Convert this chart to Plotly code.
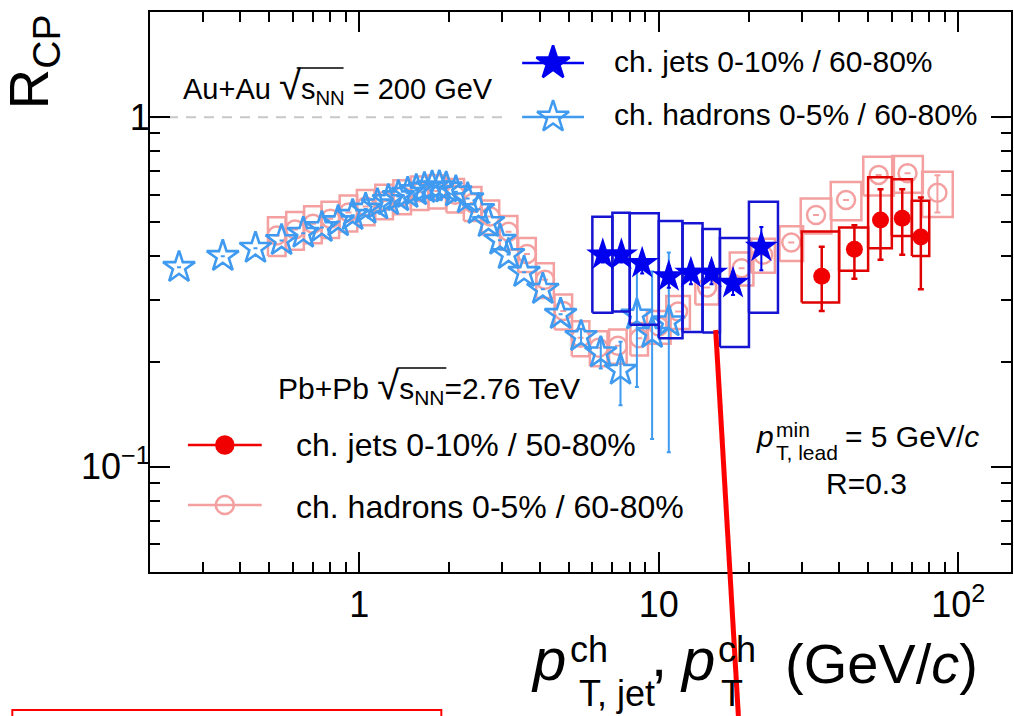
import math
import plotly.graph_objects as go

# ---------------- data ----------------
# STAR charged hadrons 0-5% / 60-80% (Au+Au 200 GeV) : light blue open stars
star_pt = [0.25, 0.35, 0.45, 0.55, 0.65, 0.75, 0.85, 0.95, 1.05, 1.15, 1.25, 1.35,
           1.45, 1.55, 1.65, 1.75, 1.85, 1.95, 2.1, 2.3, 2.5, 2.7, 2.95, 3.15, 3.55,
           4.1, 4.7, 5.5, 6.4, 7.45, 8.45, 9.5, 10.8]
star_rcp = [0.372, 0.400, 0.422, 0.444, 0.466, 0.484, 0.503, 0.524, 0.546, 0.562,
            0.578, 0.593, 0.606, 0.617, 0.626, 0.632, 0.633, 0.628, 0.612, 0.585,
            0.545, 0.500, 0.445, 0.405, 0.360, 0.322, 0.273, 0.236, 0.212, 0.189,
            0.272, 0.241, 0.260]
star_err = [0.0] * 27 + [0.012, 0.021, 0.039, 0.103, 0.121, 0.150]

# STAR charged jets 0-10% / 60-80% : dark blue filled stars with sys boxes
sjet_pt = [6.5, 7.5, 8.8, 10.8, 12.8, 15.0, 17.7, 22.0]
sjet_lo = [6, 7, 8, 10, 12, 14, 16, 20]
sjet_hi = [7, 8, 10, 12, 14, 16, 20, 25]
sjet_rcp = [0.404, 0.404, 0.382, 0.350, 0.358, 0.358, 0.335, 0.425]
sjet_stat = [0.02, 0.02, 0.025, 0.025, 0.025, 0.025, 0.025, 0.06]
sjet_sys_up = [0.115, 0.129, 0.149, 0.155, 0.139, 0.121, 0.116, 0.148]
sjet_sys_dn = [0.128, 0.126, 0.127, 0.117, 0.115, 0.116, 0.115, 0.149]

# ALICE charged jets 0-10% / 50-80% (Pb+Pb 2.76 TeV) : red filled circles
ajet_pt = [35, 45, 55, 65, 75]
ajet_lo = [30, 40, 50, 60, 70]
ajet_hi = [40, 50, 60, 70, 80]
ajet_rcp = [0.351, 0.419, 0.508, 0.514, 0.454]
ajet_stat_up = [0.075, 0.072, 0.114, 0.108, 0.135]
ajet_stat_dn = [0.072, 0.074, 0.117, 0.110, 0.132]
ajet_sys_up = [0.120, 0.065, 0.165, 0.151, 0.123]
ajet_sys_dn = [0.056, 0.055, 0.086, 0.057, 0.053]

# ALICE charged hadrons 0-5% / 60-80% : pink open circles
ahad_pt = [0.53, 0.61, 0.70, 0.80, 0.92, 1.05, 1.21, 1.39, 1.59, 1.82, 2.09, 2.39,
           2.74, 3.15, 3.63, 4.17, 4.8, 5.48, 6.3, 7.3, 8.6, 10.0, 11.6, 14.5, 18.9,
           22.3, 27.7, 33.5, 42.2, 54.2, 67.7, 85.2]
ahad_rcp = [0.459, 0.477, 0.496, 0.512, 0.534, 0.555, 0.576, 0.594, 0.610, 0.615,
            0.600, 0.568, 0.520, 0.470, 0.406, 0.343, 0.279, 0.234, 0.219, 0.222,
            0.233, 0.252, 0.278, 0.326, 0.370, 0.404, 0.438, 0.525, 0.580, 0.684,
            0.691, 0.608]
ahad_sys = [0.058, 0.059, 0.060, 0.061, 0.063, 0.064, 0.065, 0.066, 0.067, 0.067,
            0.066, 0.063, 0.058, 0.052, 0.045, 0.039, 0.032, 0.027, 0.025, 0.025,
            0.025, 0.027, 0.030, 0.035, 0.040, 0.045, 0.050, 0.060, 0.073, 0.087,
            0.083, 0.090]
ahad_stat = [0.0] * 31 + [0.074]

x_tick_vals = [1, 10, 100]
x_tick_text = ["1", "10", "10<sup>2</sup>"]
y_tick_vals = [0.1, 1]
y_tick_text = ["10<sup>\u22121</sup>", "1"]
x_minor = [0.3, 0.4, 0.5, 0.6, 0.7, 0.8, 0.9, 2, 3, 4, 5, 6, 7, 8, 9,
           20, 30, 40, 50, 60, 70, 80, 90]
y_minor = [0.06, 0.07, 0.08, 0.09, 0.2, 0.3, 0.4, 0.5, 0.6, 0.7, 0.8, 0.9, 2]

# ---------------- style ----------------
FONT = "Liberation Sans, Arial, Helvetica, sans-serif"
LBLUE = "#3f9af0"
DBLUE = "#0000ee"
BOXBLUE = "#1414d2"
RED = "#f00000"
BOXRED = "#e00000"
PINK = "#f4a0a0"

W, H = 1014, 716
ML, MR, MT, MB = 150, 1, 12, 144
PW, PH = W - ML - MR, H - MT - MB


def px(x):
    return (x - ML) / PW


def py(y):
    return (H - MB - y) / PH


def box_path(lo, hi, bot, top):
    xs, ys = [], []
    for a, b, c, d in zip(lo, hi, bot, top):
        xs += [a, b, b, a, a, None]
        ys += [c, c, d, d, c, None]
    return xs, ys


def had_box_factor(pt):
    if pt < 9.5:
        return 1.07
    if pt < 30:
        return 1.095
    return 1.125


fig = go.Figure()

# pink boxes (ALICE hadrons sys)
f = [had_box_factor(p) for p in ahad_pt]
bx, by = box_path([p / k for p, k in zip(ahad_pt, f)], [p * k for p, k in zip(ahad_pt, f)],
                  [r - s for r, s in zip(ahad_rcp, ahad_sys)],
                  [r + s for r, s in zip(ahad_rcp, ahad_sys)])
fig.add_trace(go.Scatter(x=bx, y=by, mode="lines", line=dict(color=PINK, width=2.5),
                         hoverinfo="skip", showlegend=False))
fig.add_trace(go.Scatter(x=ahad_pt, y=ahad_rcp, mode="markers",
                         marker=dict(symbol="circle-open", size=18, color=PINK,
                                     line=dict(width=2.5, color=PINK)),
                         error_y=dict(type="data", array=ahad_stat, color=PINK,
                                      thickness=2, width=3),
                         showlegend=False))

# STAR hadrons
fig.add_trace(go.Scatter(x=star_pt, y=star_rcp, mode="markers",
                         marker=dict(symbol="star-open", size=24, color=LBLUE,
                                     line=dict(width=2.6, color=LBLUE)),
                         error_y=dict(type="data", array=star_err, color=LBLUE,
                                      thickness=2, width=2),
                         showlegend=False))

# ALICE jets
bx, by = box_path(ajet_lo, ajet_hi, [r - s for r, s in zip(ajet_rcp, ajet_sys_dn)],
                  [r + s for r, s in zip(ajet_rcp, ajet_sys_up)])
fig.add_trace(go.Scatter(x=bx, y=by, mode="lines", line=dict(color=BOXRED, width=2.5),
                         hoverinfo="skip", showlegend=False))
fig.add_trace(go.Scatter(x=ajet_pt, y=ajet_rcp, mode="markers",
                         marker=dict(symbol="circle", size=17, color=RED),
                         error_y=dict(type="data", symmetric=False, array=ajet_stat_up,
                                      arrayminus=ajet_stat_dn, color=BOXRED,
                                      thickness=2.5, width=3),
                         showlegend=False))

# STAR jets
bx, by = box_path(sjet_lo, sjet_hi, [r - s for r, s in zip(sjet_rcp, sjet_sys_dn)],
                  [r + s for r, s in zip(sjet_rcp, sjet_sys_up)])
fig.add_trace(go.Scatter(x=bx, y=by, mode="lines", line=dict(color=BOXBLUE, width=2.5),
                         hoverinfo="skip", showlegend=False))
fig.add_trace(go.Scatter(x=sjet_pt, y=sjet_rcp, mode="markers",
                         marker=dict(symbol="star", size=25, color=DBLUE),
                         error_y=dict(type="data", array=sjet_stat, color=DBLUE,
                                      thickness=2, width=2),
                         showlegend=False))

# ---------------- legend keys (overlay axes in paper space) ----------------
def key(x0, x1, y, color, symbol, size, lw):
    fig.add_trace(go.Scatter(x=[px(x0), px(x1)], y=[py(y), py(y)], mode="lines",
                             line=dict(color=color, width=lw), xaxis="x2", yaxis="y2",
                             hoverinfo="skip", showlegend=False))
    fig.add_trace(go.Scatter(x=[px((x0 + x1) / 2)], y=[py(y)], mode="markers",
                             marker=dict(symbol=symbol, size=size, color=color,
                                         line=dict(width=2.5, color=color)),
                             xaxis="x2", yaxis="y2", hoverinfo="skip", showlegend=False))


key(523, 585, 63, DBLUE, "star", 25, 2.5)
key(523, 585, 117, LBLUE, "star-open", 24, 2.5)
key(188, 262, 445, RED, "circle", 17, 2.5)
key(188, 262, 505, PINK, "circle-open", 18, 2.5)

# ---------------- text ----------------
def ann(text, x, y, size, xanchor="left", yanchor="middle", **kw):
    return dict(text=text, x=px(x), y=py(y), xref="paper", yref="paper",
                xanchor=xanchor, yanchor=yanchor, showarrow=False,
                font=dict(size=size, color="black", family=FONT), **kw)


SQ = "<span style='font-size:40px'>\u221a</span>"
annotations = [
    ann("R<sub>CP</sub>", 32, 62, 56, xanchor="center", textangle=-90, borderpad=0),
    ann("Au+Au " + SQ + "s<sub>NN</sub> = 200 GeV", 181, 86, 29),
    ann("ch. jets 0-10% / 60-80%", 613, 61, 30),
    ann("ch. hadrons 0-5% / 60-80%", 613, 114, 30),
    ann("Pb+Pb " + SQ + "s<sub>NN</sub>=2.76 TeV", 276, 386, 30),
    ann("ch. jets 0-10% / 50-80%", 294, 445, 32),
    ann("ch. hadrons 0-5% / 60-80%", 294, 507, 32),
    ann("<i>p</i>", 755, 436, 30),
    ann("min", 775, 429, 21),
    ann("T, lead", 775, 452, 21),
    ann("= 5 GeV/<i>c</i>", 845, 436, 30),
    ann("R=0.3", 868, 483, 30, xanchor="center"),
    # x-axis title
    ann("<i>p</i>", 530, 660, 60),
    ann("ch", 569, 649, 36),
    ann("T, jet", 578, 693, 36),
    ann(",", 650, 655, 58),
    ann("<i>p</i>", 679, 660, 60),
    ann("ch", 717, 649, 36),
    ann("T", 720, 693, 36),
    ann("(GeV/<i>c</i>)", 784, 663, 56),
]

shapes = [
    dict(type="line", xref="paper", yref="y", x0=0, x1=1, y0=1, y1=1,
         line=dict(color="#c8c8c8", width=2, dash="10px,8px"), layer="below"),
    dict(type="rect", xref="paper", yref="paper", x0=px(505), x1=px(992),
         y0=py(138), y1=py(38), line=dict(width=0), fillcolor="white", layer="below"),
    # sqrt overlines
    dict(type="line", xref="paper", yref="paper", x0=px(297), x1=px(344),
         y0=py(68), y1=py(68), line=dict(color="black", width=1.5)),
    dict(type="line", xref="paper", yref="paper", x0=px(399), x1=px(447),
         y0=py(368), y1=py(368), line=dict(color="black", width=1.5)),
    # red marks present in the reference image
    dict(type="line", xref="paper", yref="paper", x0=px(717), y0=py(330),
         x1=px(740), y1=py(720), line=dict(color="#ff0000", width=5)),
    dict(type="rect", xref="paper", yref="paper", x0=px(12), x1=px(442),
         y0=py(710), y1=py(730), line=dict(color="#ff0000", width=2)),
]

axis_common = dict(type="log", showgrid=False, zeroline=False, showline=True,
                   linecolor="black", linewidth=2, mirror="allticks",
                   ticks="inside", ticklen=20, tickwidth=2, tickcolor="black",
                   tickmode="array",
                   tickfont=dict(size=36, color="black", family=FONT))

fig.update_layout(
    width=W, height=H,
    margin=dict(l=ML, r=MR, t=MT, b=MB, pad=0),
    paper_bgcolor="white", plot_bgcolor="white",
    xaxis=dict(axis_common, range=[math.log10(0.2), math.log10(150)],
               tickvals=x_tick_vals, ticktext=x_tick_text,
               minor=dict(tickmode="array", tickvals=x_minor, ticks="inside",
                          ticklen=10, tickwidth=2, tickcolor="black")),
    yaxis=dict(axis_common, range=[math.log10(0.05), math.log10(2.0)],
               tickvals=y_tick_vals, ticktext=y_tick_text, ticklabelstandoff=-9,
               minor=dict(tickmode="array", tickvals=y_minor, ticks="inside",
                          ticklen=10, tickwidth=2, tickcolor="black")),
    xaxis2=dict(overlaying="x", range=[0, 1], visible=False, fixedrange=True),
    yaxis2=dict(overlaying="y", range=[0, 1], visible=False, fixedrange=True),
    annotations=annotations,
    shapes=shapes,
    showlegend=False,
)

fig.write_html("out.html", config={"displayModeBar": False},
               post_script="document.body.style.margin='0px';")
